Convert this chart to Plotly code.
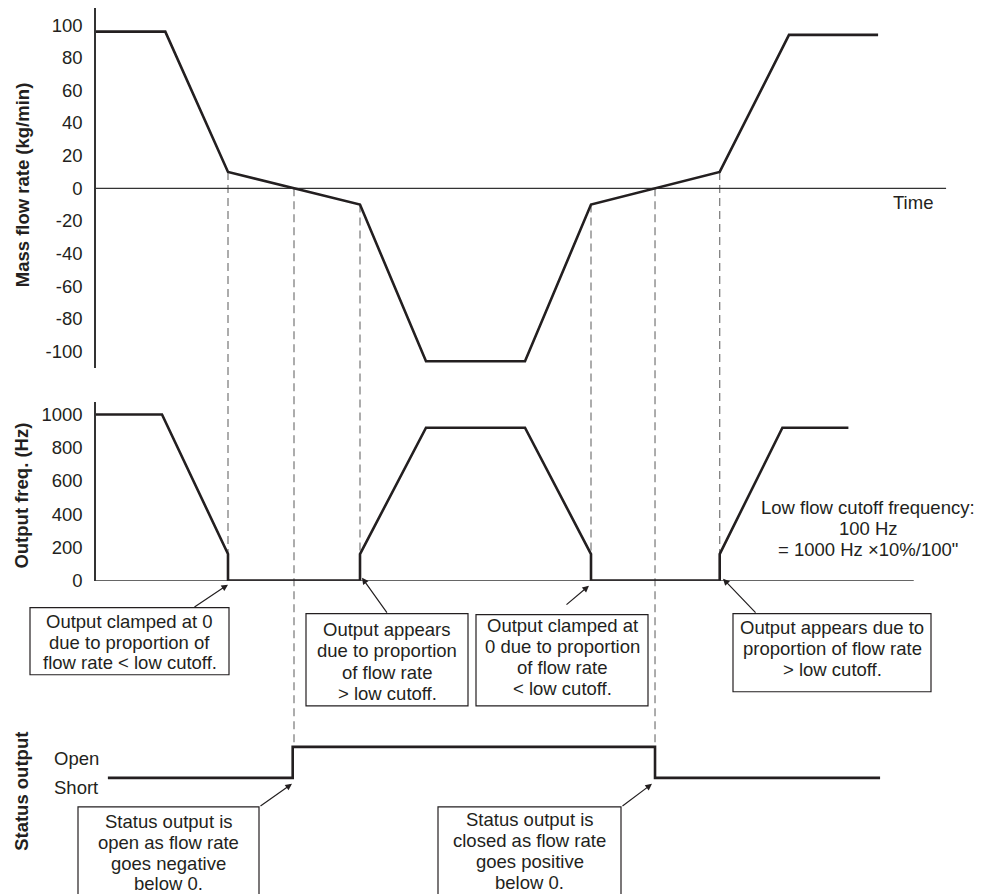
import plotly.graph_objects as go

# ---- data (time in arbitrary units) ----
mass_t = [0, 1.05, 2.0, 4.0, 5.0, 6.5, 7.5, 9.45, 10.5, 11.85]
mass_v = [96, 96, 10, -10, -106, -106, -10, 10, 94, 94]

freq_t = [0, 1.0, 2.0, 2.0, 4.0, 4.0, 5.0, 6.5, 7.5, 7.5, 9.45, 9.45, 10.4, 11.4]
freq_v = [1000, 1000, 160, 0, 0, 160, 920, 920, 160, 0, 0, 160, 920, 920]

status_t = [0.18, 2.98, 2.98, 8.47, 8.47, 11.88]
status_v = [0, 0, 1, 1, 0, 0]  # 0 = Short, 1 = Open

mass_ticks = [100, 80, 60, 40, 20, 0, -20, -40, -60, -80, -100]
mass_labels = ["100", "80", "60", "40", "20", "0", "-20", "-40", "-60", "-80", "-100"]
freq_ticks = [1000, 800, 600, 400, 200, 0]
freq_labels = ["1000", "800", "600", "400", "200", "0"]

# drop lines: time, mass value at top, panel they run down to
drop_t = [2.0, 3.0, 4.0, 7.5, 8.47, 9.45]
drop_from = [10, 0, -10, -10, 0, 10]
drop_to = ["freq", "status", "freq", "freq", "status", "freq"]

box1 = ["Output clamped at 0", "due to proportion of", "flow rate < low cutoff."]
box2 = ["Output appears", "due to proportion", "of flow rate", "> low cutoff."]
box3 = ["Output clamped at", "0 due to proportion", "of flow rate", "< low cutoff."]
box4 = ["Output appears due to", "proportion of flow rate", "> low cutoff."]
box5 = ["Status output is", "open as flow rate", "goes negative", "below 0."]
box6 = ["Status output is", "closed as flow rate", "goes positive", "below 0."]
cutoff_note = ["Low flow cutoff frequency:", "100 Hz", "= 1000 Hz \u00d710%/100\""]

# ---- geometry helpers (positions given in screen pixels) ----
# the page has an 8px body margin and the capture is squeezed a little vertically
W, H = 987, 894
OFF = 8
SY = 894 / 905
AX = 96                  # screen x of the y axes
L = AX - OFF
XR = [0, (W - L) / 66]
INK = "#231f20"
FONT = "Liberation Sans, Arial, sans-serif"


def py(p):
    return 1 - (p / SY - OFF) / H


def px(p):
    return (p - AX) / (W - L)


def to_paper(v, dom, rng):
    return dom[0] + (v - rng[0]) / (rng[1] - rng[0]) * (dom[1] - dom[0])


top_dom, top_rng = [py(368), py(8)], [-110.4, 110.4]
mid_dom, mid_rng = [py(580), py(402)], [0, 1072]
st_dom, st_rng = [py(800), py(720)], [-0.742, 1.839]

fig = go.Figure()
line = dict(color=INK, width=2.6)
fig.add_trace(go.Scatter(x=mass_t, y=mass_v, mode="lines", line=line, yaxis="y", cliponaxis=False))
fig.add_trace(go.Scatter(x=freq_t, y=freq_v, mode="lines", line=line, yaxis="y2", cliponaxis=False))
fig.add_trace(go.Scatter(x=status_t, y=status_v, mode="lines", line=line, yaxis="y3", cliponaxis=False))

shapes = []
# zero line of the mass flow panel and baseline of the frequency panel
shapes.append(dict(type="line", xref="x", yref="y", x0=0, x1=12.88, y0=0, y1=0,
                   line=dict(color="#333", width=1.3), layer="below"))
shapes.append(dict(type="line", xref="x", yref="y2", x0=0, x1=12.39, y0=0, y1=0,
                   line=dict(color="#333", width=1.3), layer="below"))

for t, v, tgt in zip(drop_t, drop_from, drop_to):
    y0 = to_paper(v, top_dom, top_rng)
    y1 = to_paper(0, mid_dom, mid_rng) if tgt == "freq" else to_paper(1, st_dom, st_rng)
    shapes.append(dict(type="line", xref="x", yref="paper", x0=t, x1=t, y0=y0, y1=y1,
                       line=dict(color="#808080", width=1.3, dash="8px,5px"), layer="below"))

annotations = []


def text(s, x, y, size=18.5, **kw):
    annotations.append(dict(text=s, x=x, y=y, xref="paper", yref="paper", showarrow=False,
                            font=dict(family=FONT, size=size, color=INK), **kw))


def box(lines, x0, x1, y0, y1, ys):
    shapes.append(dict(type="rect", xref="paper", yref="paper", x0=px(x0), x1=px(x1),
                       y0=py(y0), y1=py(y1), line=dict(color=INK, width=1.2), fillcolor="white"))
    for s, yy in zip(lines, ys):
        text(s, px((x0 + x1) / 2), py(yy), xanchor="center", yanchor="middle")


def arrow(tail, head):
    annotations.append(dict(text="", x=px(head[0]), y=py(head[1]), xref="paper", yref="paper",
                            ax=tail[0] - head[0], ay=(tail[1] - head[1]) / SY, showarrow=True,
                            arrowhead=2, arrowsize=1.1, arrowwidth=1.2, arrowcolor=INK, standoff=0))


box(box1, 30, 229, 607, 674, [621, 642, 662])
box(box2, 306, 468, 613, 705, [629, 650, 672, 693])
box(box3, 476, 648, 614, 705, [625, 646, 667, 688])
box(box4, 733, 931, 613, 691, [627, 648, 669])
box(box5, 78, 259, 806, 910, [821, 842, 863, 883])
box(box6, 438, 621, 806, 910, [819, 840, 861, 882])

arrow((193, 607), (228, 584))
arrow((388, 613), (362, 577))
arrow((565, 605), (589, 585))
arrow((757, 613), (723, 578))
arrow((259, 806), (292, 783))
arrow((621, 806), (652, 783))

for s, yy in zip(cutoff_note, [507, 528, 549]):
    text(s, px(868), py(yy), xanchor="center", yanchor="middle")

text("Time", px(913), py(202), xanchor="center", yanchor="middle")

# axis titles
for s, yy in [("Mass flow rate (kg/min)", 185), ("Output freq. (Hz)", 495), ("Status output", 791)]:
    text("<b>%s</b>" % s, px(22), py(yy), textangle=-90, xanchor="center", yanchor="middle")

# status levels
annotations.append(dict(text="Open", x=px(52), y=1, xref="paper", yref="y3", yshift=-12,
                        showarrow=False, xanchor="left", yanchor="middle",
                        font=dict(family=FONT, size=18.5, color=INK)))
annotations.append(dict(text="Short", x=px(52), y=0, xref="paper", yref="y3", yshift=-10,
                        showarrow=False, xanchor="left", yanchor="middle",
                        font=dict(family=FONT, size=18.5, color=INK)))

yax = dict(showline=True, linecolor="#333", linewidth=1.5, showgrid=False, zeroline=False,
           ticks="outside", ticklen=8, tickcolor="rgba(0,0,0,0)", anchor="x",
           tickfont=dict(family=FONT, size=18.5, color=INK), fixedrange=True)

fig.update_layout(
    width=W, height=H,
    margin=dict(l=L, r=0, t=0, b=0, pad=0),
    paper_bgcolor="white", plot_bgcolor="white",
    showlegend=False,
    xaxis=dict(range=XR, visible=False, fixedrange=True),
    yaxis=dict(yax, domain=top_dom, range=top_rng, tickvals=mass_ticks, ticktext=mass_labels),
    yaxis2=dict(yax, domain=mid_dom, range=mid_rng, tickvals=freq_ticks, ticktext=freq_labels),
    yaxis3=dict(domain=st_dom, range=st_rng, visible=False, anchor="x", fixedrange=True),
    shapes=shapes,
    annotations=annotations,
)

fig.write_html("out.html")
